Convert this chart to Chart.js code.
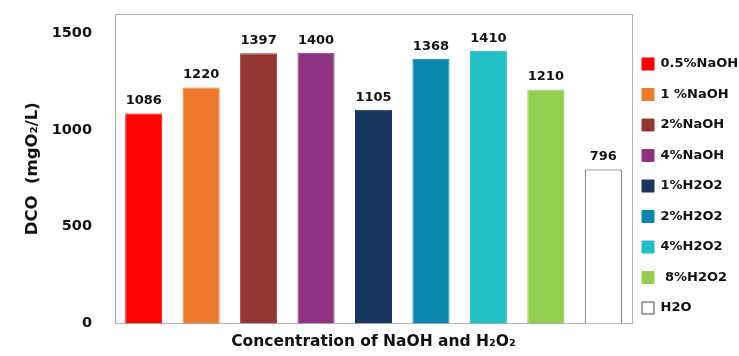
<!DOCTYPE html>
<html>
<head>
<meta charset="utf-8">
<script src="https://cdn.jsdelivr.net/npm/chart.js@4/dist/chart.umd.min.js"></script>
<style>
  html, body { margin: 0; padding: 0; background: #ffffff; }
  #wrap { width: 739px; height: 356px; position: relative; }
</style>
</head>
<body>
<div id="wrap"><canvas id="chart" width="739" height="356"></canvas></div>
<script>
// Treatments and measured DCO values (mgO2/L)
const categories = ['0.5%NaOH', '1 %NaOH', '2%NaOH', '4%NaOH', '1%H2O2', '2%H2O2', '4%H2O2', ' 8%H2O2', 'H2O'];
const dcoValues = [1086, 1220, 1397, 1400, 1105, 1368, 1410, 1210, 796];
const yTicks = [0, 500, 1000, 1500];

const fillColors = ['#ff0000', '#f07a2c', '#943634', '#8e3384', '#17375e', '#0e87b0', '#22bfc6', '#93d050', '#ffffff'];
const edgeColors = ['#ff0000', '#f07a2c', '#943634', '#8e3384', '#17375e', '#0e87b0', '#22bfc6', '#93d050', '#444444'];

const FONT = '"DejaVu Sans", sans-serif';
const LEGEND_PAD = 17.5;

// Grey frame around the plotting area
const frame = {
  id: 'frame',
  beforeDatasetsDraw(chart) {
    const { ctx, chartArea: a } = chart;
    ctx.save();
    ctx.strokeStyle = '#b0b0b0';
    ctx.lineWidth = 1;
    ctx.strokeRect(Math.round(a.left) + 0.5, Math.round(a.top) + 0.5,
                   Math.round(a.right - a.left), Math.round(a.bottom - a.top));
    ctx.restore();
  }
};

// Keep the legend column close to the frame, vertically centred on the items
const legendPlacement = {
  id: 'legendPlacement',
  afterLayout(chart) {
    const lg = chart.legend;
    if (!lg) return;
    lg.left = chart.chartArea.right + 10 - LEGEND_PAD;
    lg.top = 8;
    lg.bottom = chart.height + 8;
  }
};

// Value labels above each bar
const valueLabels = {
  id: 'valueLabels',
  afterDatasetsDraw(chart) {
    const { ctx } = chart;
    const meta = chart.getDatasetMeta(0);
    ctx.save();
    ctx.font = 'bold 13px ' + FONT;
    ctx.fillStyle = '#111111';
    ctx.textAlign = 'center';
    ctx.textBaseline = 'alphabetic';
    meta.data.forEach((bar, i) => {
      ctx.fillText(String(chart.data.datasets[0].data[i]), bar.x, bar.y - 9);
    });
    ctx.restore();
  }
};

new Chart(document.getElementById('chart'), {
  type: 'bar',
  data: {
    labels: categories,
    datasets: [{
      data: dcoValues,
      backgroundColor: fillColors,
      borderColor: edgeColors,
      borderWidth: 1,
      barPercentage: 0.645,
      categoryPercentage: 1.0
    }]
  },
  options: {
    responsive: false,
    animation: false,
    layout: { padding: { left: 19, top: 14, right: 0, bottom: 5 } },
    plugins: {
      tooltip: { enabled: false },
      legend: {
        position: 'right',
        align: 'center',
        maxWidth: 107,
        labels: {
          font: { family: FONT, size: 13, weight: 'bold' },
          color: '#111111',
          boxWidth: 12,
          boxHeight: 12,
          padding: LEGEND_PAD,
          generateLabels() {
            return categories.map((c, i) => ({
              text: c,
              fillStyle: fillColors[i],
              strokeStyle: edgeColors[i],
              lineWidth: 1,
              hidden: false,
              index: i,
              fontColor: '#111111'
            }));
          }
        }
      }
    },
    scales: {
      x: {
        grid: { display: false, drawTicks: false },
        border: { display: false },
        ticks: { display: false },
        title: {
          display: true,
          text: 'Concentration of NaOH and H₂O₂',
          font: { family: FONT, size: 15.5, weight: 'bold' },
          color: '#111111',
          padding: { top: 9, bottom: 0 }
        }
      },
      y: {
        min: 0,
        max: 1600,
        afterBuildTicks(axis) { axis.ticks = yTicks.map(v => ({ value: v })); },
        afterFit(axis) {
          axis.width = 96;
          axis.paddingTop = 0;
          axis.paddingBottom = 0;
        },
        grid: { display: false, drawTicks: false },
        border: { display: false },
        ticks: {
          font: { family: FONT, size: 14.5, weight: 'bold' },
          color: '#111111',
          padding: 23,
          callback: v => String(v)
        },
        title: {
          display: true,
          text: 'DCO  (mgO₂/L)',
          font: { family: FONT, size: 16.5, weight: 'bold' },
          color: '#111111',
          padding: { top: 4, bottom: 8 }
        }
      }
    }
  },
  plugins: [frame, legendPlacement, valueLabels]
});
</script>
</body>
</html>
